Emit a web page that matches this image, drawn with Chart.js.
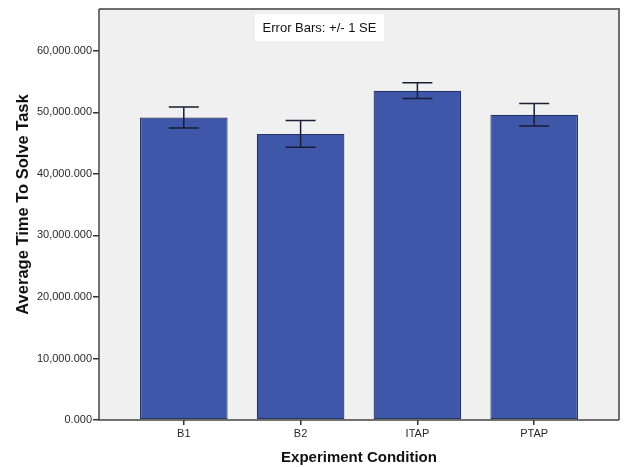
<!DOCTYPE html>
<html>
<head>
<meta charset="utf-8">
<script src="https://cdn.jsdelivr.net/npm/chart.js@4.4.1/dist/chart.umd.min.js"></script>
<style>
  html, body { margin: 0; padding: 0; background: #ffffff; }
  #wrap { width: 628px; height: 467px; }
</style>
</head>
<body>
<div id="wrap"><canvas id="c"></canvas></div>
<script>
const categories = ['B1', 'B2', 'ITAP', 'PTAP'];
const meanValues = [49150, 46500, 53520, 49615];
const seValues = [1710, 2170, 1280, 1815];
const yTickValues = [0, 10000, 20000, 30000, 40000, 50000, 60000];

const FONT = "'Liberation Sans', Arial, sans-serif";

function fmt(v) {
  return v.toLocaleString('en-US', { minimumFractionDigits: 3, maximumFractionDigits: 3 });
}

const plotFrame = {
  id: 'plotFrame',
  beforeDatasetsDraw(chart) {
    const { ctx, chartArea: a } = chart;
    ctx.save();
    ctx.fillStyle = '#f0f0f0';
    ctx.fillRect(a.left, a.top, a.right - a.left, a.bottom - a.top);
    ctx.restore();
  },
  afterDraw(chart) {
    const { ctx, chartArea: a } = chart;
    ctx.save();
    ctx.strokeStyle = '#6e6e6e';
    ctx.lineWidth = 2;
    ctx.beginPath();
    ctx.moveTo(a.left, a.top);
    ctx.lineTo(a.right, a.top);
    ctx.lineTo(a.right, a.bottom);
    ctx.stroke();
    ctx.strokeStyle = '#444444';
    ctx.lineWidth = 1.5;
    ctx.beginPath();
    ctx.moveTo(a.left, a.top);
    ctx.lineTo(a.left, a.bottom);
    ctx.lineTo(a.right, a.bottom);
    ctx.stroke();
    // note box
    const bx = a.left + 156, by = a.top + 5, bw = 129, bh = 27;
    ctx.fillStyle = '#ffffff';
    ctx.fillRect(bx, by, bw, bh);
    ctx.fillStyle = '#111111';
    ctx.font = "13px " + FONT;
    ctx.textAlign = 'center';
    ctx.textBaseline = 'middle';
    ctx.fillText('Error Bars: +/- 1 SE', bx + bw / 2, by + bh / 2 + 0.5);
    // y axis title
    ctx.save();
    ctx.translate(28, (a.top + a.bottom) / 2 - 10);
    ctx.rotate(-Math.PI / 2);
    ctx.font = "bold 16.5px " + FONT;
    ctx.textBaseline = 'alphabetic';
    ctx.fillText('Average Time To Solve Task', 0, 0);
    ctx.restore();
    ctx.restore();
  }
};

const errorBars = {
  id: 'errorBars',
  afterDatasetsDraw(chart) {
    const { ctx } = chart;
    const xs = chart.scales.x, ys = chart.scales.y;
    ctx.save();
    ctx.strokeStyle = '#1a1d33';
    ctx.lineWidth = 1.5;
    const half = 15;
    meanValues.forEach((m, i) => {
      const x = xs.getPixelForValue(i);
      const yt = ys.getPixelForValue(m + seValues[i]);
      const yb = ys.getPixelForValue(m - seValues[i]);
      ctx.beginPath();
      ctx.moveTo(x, yt); ctx.lineTo(x, yb);
      ctx.moveTo(x - half, yt); ctx.lineTo(x + half, yt);
      ctx.moveTo(x - half, yb); ctx.lineTo(x + half, yb);
      ctx.stroke();
    });
    ctx.restore();
  }
};

new Chart(document.getElementById('c'), {
  type: 'bar',
  data: {
    datasets: [{
      data: meanValues.map((v, i) => ({ x: i, y: v })),
      backgroundColor: '#3e57a8',
      borderColor: '#283466',
      borderWidth: 1.2,
      borderSkipped: false,
      categoryPercentage: 1,
      barPercentage: 0.75
    }]
  },
  options: {
    responsive: true,
    maintainAspectRatio: false,
    animation: false,
    layout: { padding: { top: 9, right: 9, bottom: 0, left: 0 } },
    plugins: { legend: { display: false }, tooltip: { enabled: false } },
    scales: {
      x: {
        type: 'linear',
        offset: false,
        min: -0.726,
        max: 3.726,
        afterBuildTicks(scale) { scale.ticks = categories.map((c, i) => ({ value: i })); },
        afterFit(scale) { scale.height = 47; },
        ticks: {
          callback: (v) => categories[v],
          font: { family: FONT, size: 11 },
          color: '#2a2a2a',
          padding: 2,
          maxRotation: 0,
          autoSkip: false
        },
        grid: { offset: false, drawOnChartArea: false, drawTicks: true, tickLength: 5, color: '#333333', lineWidth: 1.5 },
        border: { display: false },
        title: {
          display: true,
          text: 'Experiment Condition',
          font: { family: FONT, size: 15, weight: 'bold' },
          color: '#111111',
          padding: { top: 0, bottom: 0 }
        }
      },
      y: {
        min: 0,
        max: 66800,
        afterBuildTicks(scale) { scale.ticks = yTickValues.map(v => ({ value: v })); },
        afterFit(scale) { scale.width = 99; },
        ticks: {
          callback: (v) => fmt(v),
          font: { family: FONT, size: 11 },
          color: '#2a2a2a',
          padding: 1
        },
        grid: { drawOnChartArea: false, drawTicks: true, tickLength: 6, color: '#333333', lineWidth: 1.5 },
        border: { display: false },
        title: { display: false }
      }
    }
  },
  plugins: [plotFrame, errorBars]
});
</script>
</body>
</html>
